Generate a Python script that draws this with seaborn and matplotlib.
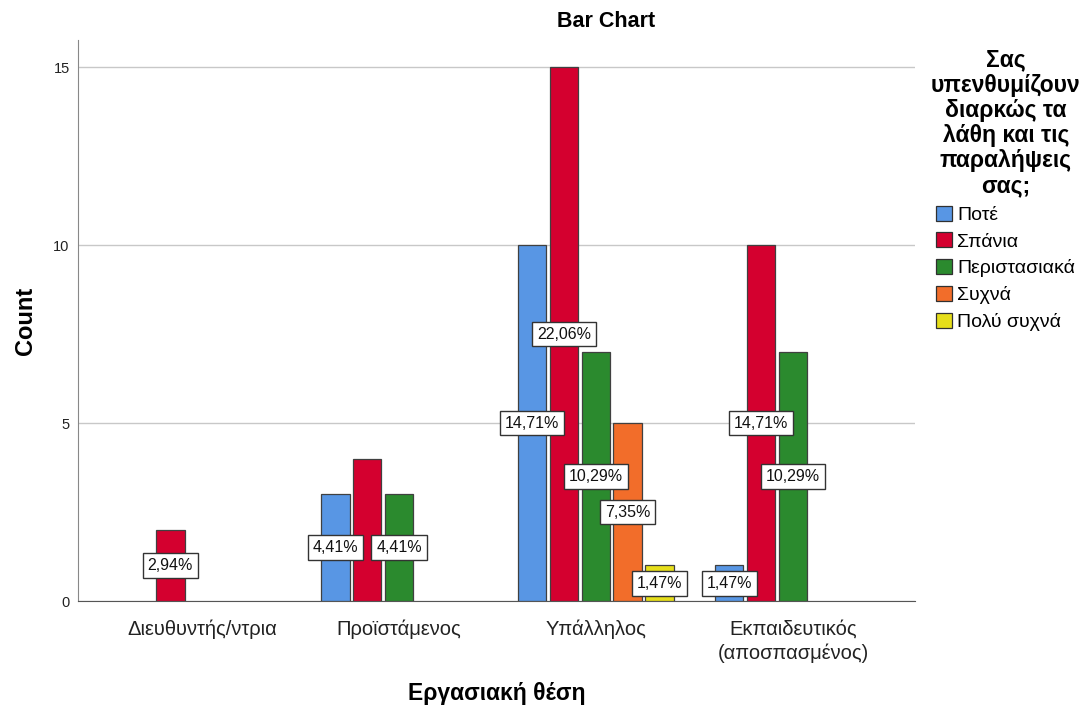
import pandas as pd
import matplotlib
matplotlib.use("Agg")
import matplotlib.pyplot as plt
import seaborn as sns

# categories and answer levels
positions = ["Διευθυντής/ντρια", "Προϊστάμενος", "Υπάλληλος", "Εκπαιδευτικός\n(αποσπασμένος)"]
answers = ["Ποτέ", "Σπάνια", "Περιστασιακά", "Συχνά", "Πολύ συχνά"]

# counts per answer level, in order of positions
never = [0, 3, 10, 1]
rarely = [2, 4, 15, 10]
occasionally = [0, 3, 7, 7]
often = [0, 0, 5, 0]
very_often = [0, 0, 1, 0]

# the original chart leaves this label out (overlap)
hidden_labels = [("Προϊστάμενος", "Σπάνια")]

colors = ["#5896E4", "#D4002F", "#2B8A2E", "#F26D2A", "#E6DE1A"]

rows = []
for ans, vals in zip(answers, [never, rarely, occasionally, often, very_often]):
    for pos, v in zip(positions, vals):
        if v > 0:
            rows.append({"pos": pos, "answer": ans, "count": v})
df = pd.DataFrame(rows)
total = df["count"].sum()

sns.set_style("white", {"text.color": "black", "axes.labelcolor": "black",
                        "xtick.color": "#222222", "ytick.color": "#222222"})
plt.rcParams["font.family"] = ["Liberation Sans", "DejaVu Sans"]

fig = plt.figure(figsize=(10.85, 7.11), dpi=100)
ax = fig.add_axes([0.0719, 0.1547, 0.7714, 0.789])

sns.barplot(data=df, x="pos", y="count", hue="answer", order=positions,
            hue_order=answers, palette=colors, saturation=1, width=0.81, gap=0.1,
            edgecolor="#404040", linewidth=0.9, ax=ax, zorder=3)

# percentage labels in the middle of each bar
for ans, cont in zip(answers, ax.containers):
    for bar in cont:
        h = bar.get_height()
        xc = bar.get_x() + bar.get_width() / 2
        pos = positions[int(round(xc))]
        if h > 0 and (pos, ans) not in hidden_labels:
            pct = f"{h / total * 100:.2f}%".replace(".", ",")
            ax.text(xc, h / 2, pct, color="#111111",
                    ha="center", va="center", fontsize=11.5, zorder=5,
                    bbox=dict(boxstyle="square,pad=0.3", fc="white",
                              ec="#333333", lw=1.0))

ax.set_xlim(-0.63, 3.62)
ax.set_ylim(0, 15.76)
ax.set_yticks([0, 5, 10, 15])
ax.yaxis.grid(True, color="#c8c8c8", lw=1, zorder=0)
ax.tick_params(axis="y", labelsize=10.5, length=0, pad=6)
ax.tick_params(axis="x", labelsize=14.5, length=0, pad=13)
for t in ax.get_xticklabels():
    t.set_linespacing(1.35)
for s in ["top", "right"]:
    ax.spines[s].set_visible(False)
ax.spines["left"].set_color("#888888")
ax.spines["bottom"].set_color("#555555")

ax.set_xlabel("Εργασιακή θέση", fontsize=16.5, fontweight="bold", labelpad=14)
ax.set_ylabel("Count", fontsize=17, fontweight="bold", labelpad=12)
fig.text(0.559, 0.97, "Bar Chart", ha="center", va="center",
         fontsize=15.5, fontweight="bold")

handles, labels = ax.get_legend_handles_labels()
if ax.legend_:
    ax.legend_.remove()
leg = fig.legend(handles, labels,
                 title="Σας\nυπενθυμίζουν\nδιαρκώς τα\nλάθη και τις\nπαραλήψεις\nσας;",
                 loc="upper center", bbox_to_anchor=(0.927, 0.932), frameon=False,
                 fontsize=14, handlelength=0.8, handleheight=0.8,
                 handletextpad=0.3, labelspacing=0.44, borderaxespad=0,
                 borderpad=0)
leg.get_title().set_fontsize(16.5)
leg.get_title().set_fontweight("bold")
leg.get_title().set_multialignment("center")
leg.get_title().set_linespacing(1.12)
for h in leg.legend_handles:
    h.set_edgecolor("#303030")

fig.savefig("out.png", dpi=100)
